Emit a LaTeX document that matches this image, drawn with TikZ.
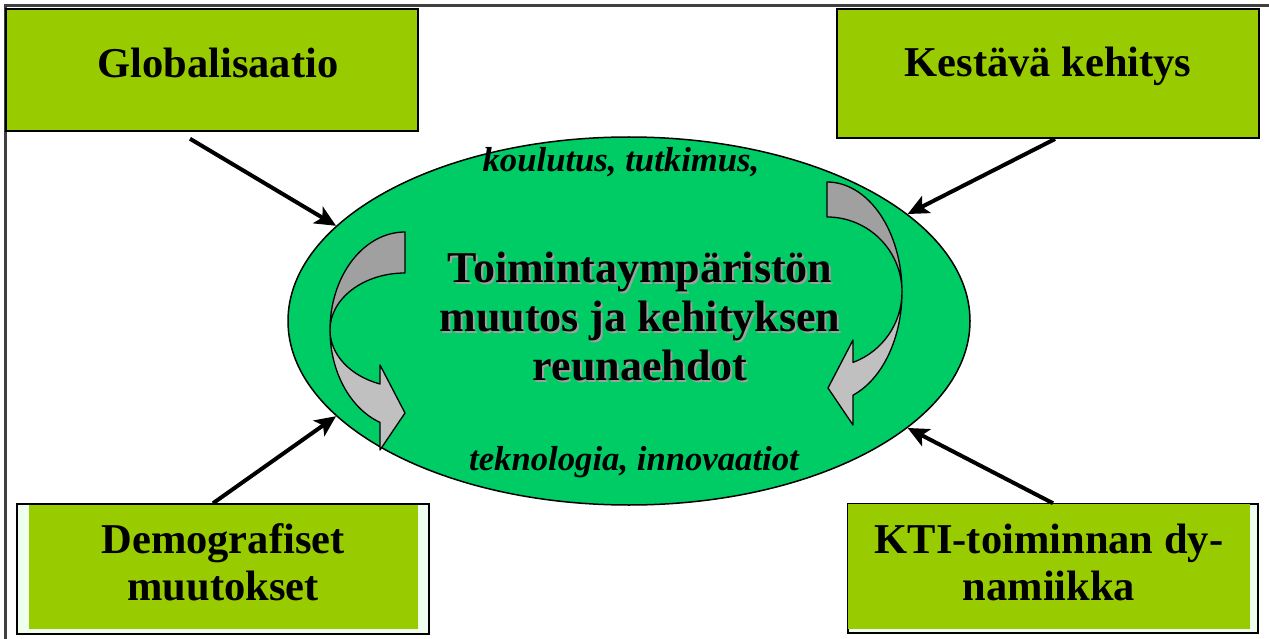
\documentclass[tikz,border=0pt]{standalone}
\usepackage{xcolor}
\usepackage{fontspec}
\setmainfont{Liberation Serif}
\usetikzlibrary{shapes.geometric, arrows.meta, positioning}

\definecolor{boxgreen}{HTML}{99CC00}
\definecolor{envgreen}{HTML}{00CC66}
\definecolor{palegreen}{HTML}{EEFFF0}
\definecolor{twistdark}{HTML}{A0A0A0}
\definecolor{twistlight}{HTML}{C0C0C0}

\begin{document}
\begin{tikzpicture}[x=1pt, y=-1pt,
    box/.style={draw=black, fill=boxgreen, line width=1.5pt, inner sep=0pt},
    palebox/.style={draw=black, fill=palegreen, line width=1.5pt, inner sep=0pt},
    boxtext/.style={font=\fontsize{42.5}{47}\selectfont\bfseries, align=center, inner sep=0pt},
    maintext/.style={font=\fontsize{44}{49}\selectfont\bfseries, align=center, inner sep=0pt},
    sidetext/.style={font=\fontsize{34.7}{40}\selectfont\bfseries\itshape, inner sep=0pt},
    inarrow/.style={line width=4pt, -{Stealth[length=21pt, width=19pt, inset=5pt]}},
    twist/.style={draw=black, line width=1.3pt, line join=round}]
    \useasboundingbox (0,0) rectangle (1269,639);

    % Frame lines (top and left)
    \draw[black!75, line width=3pt] (5,639) -- (5,6) -- (1269,6);

    % Central ellipse
    \node[ellipse, draw=black, line width=1.5pt, fill=envgreen, minimum width=682pt,
          minimum height=368pt, inner sep=0pt] (env) at (629,321) {};

    % Top boxes
    \node[box, minimum width=412pt, minimum height=122pt] (glob) at (212,70) {};
    \node[boxtext, anchor=base] (globt) at (218,78) {Globalisaatio};
    \node[box, line width=2pt, minimum width=422pt, minimum height=129pt] (kest) at (1048,73.5) {};
    \node[boxtext, anchor=base] (kestt) at (1048,77) {Kestävä kehitys};

    % Bottom boxes (pale frame with green fill inside)
    \node[palebox, minimum width=412pt, minimum height=130pt] (demo) at (223,569) {};
    \node[fill=boxgreen, inner sep=0pt, minimum width=389pt, minimum height=124pt] (demoin) at (223.5,567) {};
    \node[boxtext] (demot) at (223,562) {Demografiset\\muutokset};
    \node[palebox, minimum width=410pt, minimum height=129pt] (kti) at (1053,568.5) {};
    \node[fill=boxgreen, inner sep=0pt, minimum width=402pt, minimum height=125pt] (ktiin) at (1049,566.5) {};
    \node[boxtext] (ktit) at (1049,562) {KTI-toiminnan dy-\\namiikka};

    % Arrows into the ellipse
    \draw[inarrow] ([shift={(-22,7)}]glob.south) -- (env.162);
    \draw[inarrow] ([shift={(7,0)}]kest.south) -- (env.21);
    \draw[inarrow] ([shift={(-10,0)}]demo.north) -- (env.198);
    \draw[inarrow] (kti.north) -- (env.339);

    % Left curved arrow
    \filldraw[twist, fill=twistdark] (405,232)
        arc[start angle=270, end angle=180, x radius=75, y radius=98]
        arc[start angle=180, end angle=270, x radius=75, y radius=57] -- cycle;
    \filldraw[twist, fill=twistlight] (330,330)
        arc[start angle=180, end angle=109.5, x radius=75, y radius=98]
        -- (380,450) -- (405,413) -- (380,365) -- (380,384)
        arc[start angle=109.5, end angle=180, x radius=75, y radius=57] -- cycle;

    % Right curved arrow
    \filldraw[twist, fill=twistdark] (827,182)
        arc[start angle=270, end angle=360, x radius=75, y radius=110]
        arc[start angle=0, end angle=-90, x radius=75, y radius=75] -- cycle;
    \filldraw[twist, fill=twistlight] (902,292)
        arc[start angle=0, end angle=69.7, x radius=75, y radius=110]
        -- (853,425) -- (828,388) -- (853,340) -- (853,362.4)
        arc[start angle=69.7, end angle=0, x radius=75, y radius=75] -- cycle;

    % Texts in the ellipse
    \node[sidetext, anchor=base] (upper) at (621,172) {koulutus, tutkimus,};
    \node[sidetext, anchor=base] (lower) at (634,470) {teknologia, innovaatiot};
    \node[maintext, text=twistdark] (mainshadow) at (642,319) {Toimintaympäristön\\muutos ja kehityksen\\reunaehdot};
    \node[maintext] (main) at (640,317) {Toimintaympäristön\\muutos ja kehityksen\\reunaehdot};
\end{tikzpicture}
\end{document}
